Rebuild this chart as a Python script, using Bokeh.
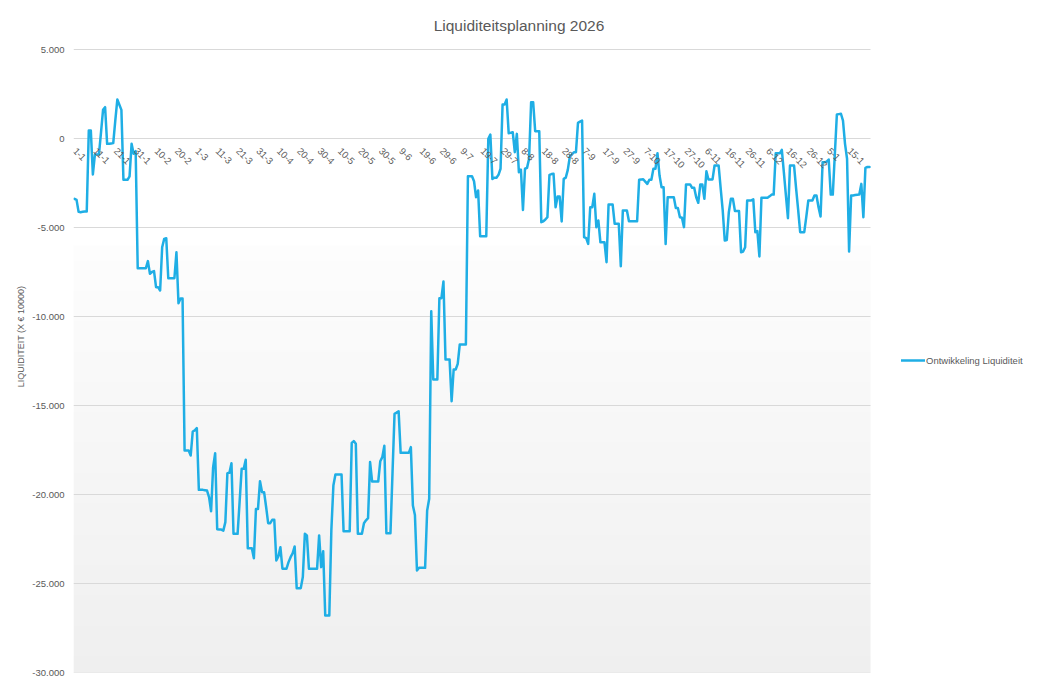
import numpy as np
from bokeh.plotting import figure
from bokeh.models import Range1d, Legend, LegendItem, Label, FixedTicker
from bokeh.embed import file_html
from bokeh.resources import INLINE
from bokeh.core.properties import value

title_text = "Liquiditeitsplanning 2026"
series_name = "Ontwikkeling Liquiditeit"
y_axis_title = "LIQUIDITEIT (X € 10000)"

# daily liquidity, 1-1 (2026) ... ~25-1 (next year)
liquiditeit = [
    -3390, -3450, -4120, -4140, -4120, -4100, -4100, 450, 450, -2020,
    -900, -900, -880, 350, 1610, 1760, -300, -300, -280, -260,
    1000, 2190, 1900, 1610, -2320, -2320, -2320, -2130, -300, -860,
    -710, -7290, -7290, -7290, -7290, -7290, -6890, -7600, -7500, -7450,
    -8350, -8350, -8540, -6110, -5640, -5600, -7850, -7850, -7850, -7850,
    -6390, -9250, -8990, -8990, -17530, -17530, -17530, -17810, -16460, -16400,
    -16270, -19740, -19740, -19740, -19760, -19780, -20150, -20940, -18460, -17680,
    -21950, -21970, -21970, -22030, -21550, -18800, -18780, -18240, -22210, -22210,
    -22210, -20400, -18560, -18560, -18050, -23020, -23020, -23020, -23580, -20820,
    -20820, -19250, -19870, -19870, -20700, -21610, -21610, -21420, -21420, -23710,
    -23480, -22960, -24170, -24170, -24170, -23800, -23520, -23300, -22920, -25260,
    -25260, -25260, -24640, -22210, -22300, -24170, -24170, -24170, -24170, -24170,
    -22300, -24080, -23190, -26800, -26800, -26800, -22000, -19500, -18880, -18880,
    -18880, -18880, -22060, -22060, -22060, -22060, -17100, -17000, -17150, -22210,
    -22210, -22210, -21610, -21450, -21330, -18180, -19270, -19270, -19270, -19270,
    -18130, -17900, -17260, -22170, -22170, -22170, -18800, -15470, -15400, -15320,
    -17660, -17660, -17660, -17660, -17660, -17340, -20620, -21150, -24270, -24120,
    -24120, -24120, -24120, -20900, -20240, -9700, -13540, -13540, -13540, -8970,
    -8970, -8030, -12420, -12420, -12420, -14760, -12980, -12980, -12660, -11570,
    -11570, -11570, -11570, -2120, -2120, -2120, -2400, -3300, -2920, -5490,
    -5490, -5490, -5490, -20, 220, -2270, -2200, -2200, -2040, -1700,
    1910, 1910, 2190, 300, 320, 350, -770, 260, -1890, -1750,
    -4010, -1700, -1650, -1140, 2040, 2040, 410, 410, 410, -4700,
    -4650, -4550, -4420, -2040, -2000, -1980, -3860, -3260, -3260, -4660,
    -2270, -2200, -1760, -1010, -900, -770, -770, 880, 950, 1010,
    -5540, -5600, -5920, -3860, -3860, -3110, -4980, -4610, -5830, -5830,
    -5830, -6950, -3710, -3710, -3710, -4790, -4790, -4790, -7170, -4040,
    -4040, -4040, -4650, -4650, -4650, -4650, -4650, -2320, -2300, -2290,
    -2420, -2550, -2320, -2320, -1700, -1700, -830, -2080, -2740, -2740,
    -5920, -3300, -3300, -3300, -3300, -3910, -3910, -4420, -4450, -4980,
    -2580, -2580, -2580, -2770, -2770, -3300, -3610, -2580, -2580, -3390,
    -1840, -2300, -2300, -2300, -1520, -1520, -1520, -2800, -4040, -5730,
    -5700, -4140, -3390, -3390, -4080, -4080, -4080, -6390, -6350, -6110,
    -3480, -3480, -3480, -3420, -5260, -5200, -6630, -3330, -3330, -3330,
    -3330, -3250, -3150, -3150, -830, -830, -830, -640, -1900, -3200,
    -4480, -1520, -1520, -1520, -2800, -4000, -5260, -5260, -5260, -4400,
    -3480, -3480, -3480, -3200, -3200, -3860, -4380, -1330, -1330, -1300,
    -1180, -3150, -3150, -900, 1350, 1370, 1390, 1010, -300, -1140,
    -6350, -3200, -3200, -3180, -3160, -3150, -2550, -4420, -1650, -1600,
    -1600,
]

x_tick_labels = [
    "1-1", "11-1", "21-1", "31-1", "10-2", "20-2", "1-3", "11-3", "21-3", "31-3",
    "10-4", "20-4", "30-4", "10-5", "20-5", "30-5", "9-6", "19-6", "29-6", "9-7",
    "19-7", "29-7", "8-8", "18-8", "28-8", "7-9", "17-9", "27-9", "7-10", "17-10",
    "27-10", "6-11", "16-11", "26-11", "6-12", "16-12", "26-12", "5-1", "15-1",
]
x_tick_step = 10

y_ticks = [-30000, -25000, -20000, -15000, -10000, -5000, 0, 5000]
y_tick_labels = ["-30.000", "-25.000", "-20.000", "-15.000", "-10.000", "-5.000", "0", "5.000"]

N = len(liquiditeit)
days = list(range(N))
y_min, y_max = y_ticks[0], y_ticks[-1]

# page layout (pixels)
W, H = 1039, 687
PLOT_LEFT, PLOT_RIGHT, PLOT_TOP, PLOT_BOTTOM = 73, 870, 49, 672
FONT = "Liberation Sans"
GREY = "#595959"

# the frame spans the title and legend areas too; ranges are extended so that
# the plot area itself lands on PLOT_LEFT..PLOT_RIGHT / PLOT_TOP..PLOT_BOTTOM
x_lo = -0.5
x_hi = (N - 0.5) + (W - PLOT_RIGHT) * N / (PLOT_RIGHT - PLOT_LEFT)
y_lo = y_min
y_hi = y_max + PLOT_TOP * (y_max - y_min) / (PLOT_BOTTOM - PLOT_TOP)

p = figure(width=W, height=H, output_backend="svg", toolbar_location=None,
           x_range=Range1d(x_lo, x_hi), y_range=Range1d(y_lo, y_hi),
           x_axis_location=None,
           min_border_left=PLOT_LEFT, min_border_right=0, min_border_top=0,
           min_border_bottom=H - PLOT_BOTTOM)
p.outline_line_color = None
p.background_fill_color = "white"
p.border_fill_color = "white"
p.grid.visible = False

# plot-area gradient (white to light grey towards the bottom)
rows = 350
vals = np.linspace(y_min, y_max, rows)
img = np.empty((rows, 1), dtype=np.uint32)
view = img.view(dtype=np.uint8).reshape((rows, 1, 4))
for r, v in enumerate(vals):
    if v > -6000:
        c = 255
    else:
        t = (v + 6000) / (y_min + 6000)
        c = int(round(253 - t * (253 - 239)))
    view[r, 0, :] = [c, c, c, 255]
bg = p.image_rgba(image=[img], x=-0.5, y=y_min, dw=N, dh=y_max - y_min)
bg.level = "image"

# horizontal gridlines, limited to the plot area
grid = p.segment(x0=[-0.5] * len(y_ticks), y0=y_ticks, x1=[N - 0.5] * len(y_ticks), y1=y_ticks,
                 line_color="#d9d9d9", line_width=1)
grid.level = "underlay"

# y axis
yax = p.yaxis[0]
yax.bounds = (y_min, y_max)
yax.ticker = FixedTicker(ticks=y_ticks)
yax.major_label_overrides = {t: l for t, l in zip(y_ticks, y_tick_labels)}
yax.axis_line_color = None
yax.major_tick_line_color = None
yax.minor_tick_line_color = None
yax.major_tick_out = 0
yax.major_label_standoff = 9
yax.major_label_text_font = FONT
yax.major_label_text_font_size = "9.5px"
yax.major_label_text_color = GREY
yax.axis_label = y_axis_title
yax.axis_label_standoff = 3
yax.axis_label_text_font = FONT
yax.axis_label_text_font_size = "9px"
yax.axis_label_text_font_style = "normal"
yax.axis_label_text_color = GREY

# series
line_r = p.line(days, liquiditeit, line_color="#1FAEE5", line_width=2.5,
                line_join="round", line_cap="round")

# category labels along the zero line, rotated
label_pos = [i * x_tick_step for i in range(len(x_tick_labels))]
p.text(x=label_pos, y=[0] * len(label_pos), text=x_tick_labels,
       angle=-np.pi / 4, text_align="left", text_baseline="middle",
       x_offset=0, y_offset=11,
       text_font=value(FONT), text_font_size="9.5px", text_color=GREY)

# title (screen units, relative to the frame's bottom-left corner)
p.add_layout(Label(x=518.5 - PLOT_LEFT, y=PLOT_BOTTOM - 25, x_units="screen", y_units="screen",
                   text=title_text, text_align="center", text_baseline="middle",
                   text_font=FONT, text_font_size="15.5px", text_color=GREY))

# legend, right of the plot area
legend = Legend(items=[LegendItem(label=series_name, renderers=[line_r])],
                location=(901 - PLOT_LEFT, PLOT_BOTTOM - 360 - 6), padding=0, margin=0, spacing=0,
                border_line_color=None, background_fill_alpha=0,
                glyph_width=24, glyph_height=12, label_height=12, label_standoff=1,
                label_text_font=FONT, label_text_font_size="9.5px",
                label_text_color=GREY)
p.add_layout(legend, "center")

open("out.html", "w").write(file_html(p, INLINE))
